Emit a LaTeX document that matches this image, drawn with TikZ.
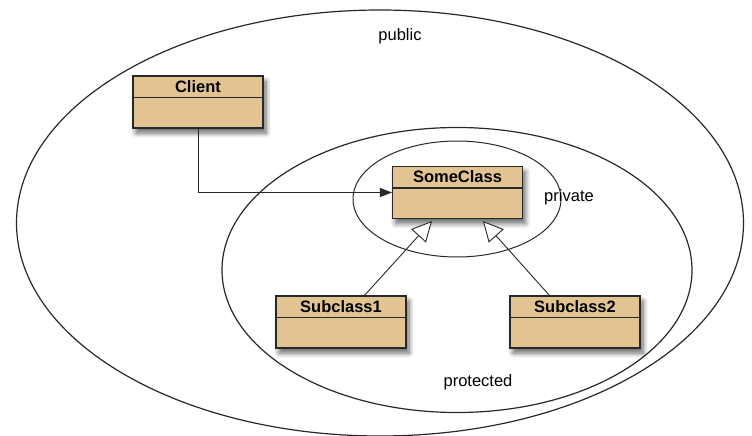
\documentclass[tikz,border=0pt]{standalone}
\usepackage{fontspec}
\setmainfont{Liberation Sans}
\usetikzlibrary{arrows.meta,shadows,shadows.blur,calc,shapes.geometric}
\definecolor{boxfill}{RGB}{226,196,146}
\definecolor{linec}{RGB}{40,40,40}
\tikzset{
  region/.style={draw=linec, line width=1.2pt},
  classbox/.style={draw=linec, line width=1.1pt, fill=boxfill, minimum width=130pt, minimum height=52pt, inner sep=0pt,
    blur shadow={shadow xshift=3pt, shadow yshift=-5pt, shadow blur radius=5pt, shadow blur steps=8, shadow opacity=60}},
  classtitle/.style={font=\fontsize{16.5}{18}\selectfont\bfseries, inner sep=0pt, anchor=center},
  label/.style={font=\fontsize{16.5}{18}\selectfont, inner sep=0pt},
  assoc/.style={draw=linec, line width=0.9pt, -{Triangle[length=12pt,width=9pt]}},
  inherit/.style={draw=linec, line width=0.9pt, -{Triangle[open,length=20pt,width=20pt,fill=white]}}
}
\newcommand{\umlclass}[3]{%
  \node[classbox] (#1) at (#2) {};
  \node[classtitle] (#1T) at ($(#1.north)+(0,11)$) {#3};
  \draw[draw=linec, line width=1.1pt] ($(#1.north west)+(0,22)$) -- ($(#1.north east)+(0,22)$);
}
\begin{document}
\begin{tikzpicture}[x=1pt,y=-1pt]
\useasboundingbox (0,0) rectangle (752,436);
% regions
\node[region, ellipse, minimum width=727pt, minimum height=426pt, inner sep=0pt] (public) at (380,223) {};
\node[region, ellipse, minimum width=470pt, minimum height=285pt, inner sep=0pt] (protected) at (457,270) {};
\node[region, line width=1pt, ellipse, minimum width=208pt, minimum height=116pt, inner sep=0pt] (private) at (457,199) {};
% labels
\node[label] (publicL) at (400,36) {public};
\node[label] (privateL) at (569,197) {private};
\node[label] (protectedL) at (478,382) {protected};
% classes
\umlclass{client}{198,102}{Client}
\umlclass{some}{457.5,192.5}{SomeClass}
\umlclass{subA}{341,322}{Subclass1}
\umlclass{subB}{575,322}{Subclass2}
% connectors
\coordinate (subAtop) at ($(subA.north west)+(89,0)$);
\coordinate (subBtop) at ($(subB.north west)+(40,0)$);
\coordinate (someL) at ($(some.south west)+(40,2)$);
\coordinate (someR) at ($(some.south west)+(91,2)$);
\draw[assoc] (client.south) |- (some.west);
\draw[inherit] (subAtop) -- (someL);
\draw[inherit] (subBtop) -- (someR);
\end{tikzpicture}
\end{document}
